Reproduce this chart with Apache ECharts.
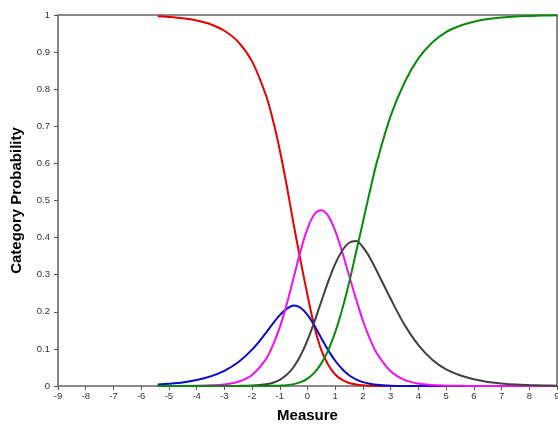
<!DOCTYPE html>
<html>
<head>
<meta charset="utf-8">
<script src="https://cdn.jsdelivr.net/npm/echarts@6/dist/echarts.min.js"></script>
<style>
html,body{margin:0;padding:0;background:#fff;}
#c{width:558px;height:428px;}
</style>
</head>
<body>
<div id="c"></div>
<script>
var measures = [-5.4,-5,-4.5,-4,-3.5,-3,-2.5,-2,-1.5,-1.25,-1,-0.75,-0.5,-0.25,0,0.25,0.5,0.75,1,1.25,1.5,1.75,2,2.25,2.5,3,3.5,4,4.5,5,5.5,6,6.5,7,7.5,8,8.5,9];

var cat0 = [0.9964,0.9946,0.991,0.985,0.975,0.9576,0.9276,0.875,0.7837,0.7178,0.6363,0.5405,0.4357,0.338,0.245,0.16,0.0965,0.0564,0.0311,0.0163,0.0081,0.0038,0.0017,0.0008,0.0003,0.0001,0,0,0,0,0,0,0,0,0,0,0,0];
var cat1 = [0.004,0.006,0.0095,0.016,0.026,0.041,0.064,0.098,0.143,0.168,0.191,0.208,0.217,0.211,0.192,0.163,0.129,0.096,0.068,0.046,0.029,0.018,0.0105,0.006,0.0032,0.0009,0.0002,0.0001,0,0,0,0,0,0,0,0,0,0];
var cat2 = [0.00004,0.0001,0.0002,0.0006,0.0017,0.0044,0.0116,0.0298,0.0726,0.1095,0.158,0.22,0.292,0.364,0.424,0.463,0.474,0.458,0.418,0.362,0.298,0.235,0.176,0.127,0.0884,0.0396,0.0164,0.0065,0.0025,0.001,0.0004,0.0001,0,0,0,0,0,0];
var cat3 = [0,0,0,0,0,0.0001,0.0003,0.0012,0.0046,0.0089,0.0167,0.0301,0.0513,0.0823,0.1236,0.1735,0.2282,0.2821,0.3294,0.3645,0.386,0.391,0.374,0.346,0.31,0.235,0.165,0.11,0.071,0.045,0.029,0.018,0.011,0.007,0.004,0.0025,0.0015,0.001];
var cat4 = [0,0,0,0,0,0,0,0.00003,0.0002,0.0004,0.001,0.0023,0.005,0.0104,0.02,0.0361,0.061,0.0968,0.1451,0.2061,0.2783,0.3599,0.4423,0.5251,0.6028,0.728,0.818,0.883,0.926,0.954,0.971,0.982,0.989,0.993,0.996,0.9975,0.9985,0.999];

var seriesNames = ['0','1','2','3','4'];
var seriesValues = [cat0, cat1, cat2, cat3, cat4];
var seriesColors = ['#e80000','#0a0ac8','#f010f0','#404040','#0a8a0a'];

function pairs(v){ return measures.map(function(x,i){ return [x, v[i]]; }); }

var chart = echarts.init(document.getElementById('c'), null, {renderer:'canvas'});
chart.setOption({
  animation:false,
  backgroundColor:'#ffffff',
  grid:{left:58, right:1, top:15, bottom:42, containLabel:false, outerBoundsMode:'none',
        show:true, borderColor:'#8a8a8a', borderWidth:2, backgroundColor:'transparent'},
  xAxis:{
    type:'value', min:-9, max:9, interval:1,
    name:'Measure', nameLocation:'middle', nameGap:22,
    nameTextStyle:{fontFamily:'Liberation Sans, Arial', fontWeight:'bold', fontSize:15, color:'#000'},
    axisLine:{show:true, onZero:false, lineStyle:{color:'#8a8a8a', width:2}},
    axisTick:{show:true, length:4, lineStyle:{color:'#555'}},
    axisLabel:{fontFamily:'Liberation Sans, Arial', fontSize:9.5, color:'#333', margin:5},
    splitLine:{show:false}
  },
  yAxis:{
    type:'value', min:0, max:1, interval:0.1,
    name:'Category Probability', nameLocation:'middle', nameGap:34,
    nameTextStyle:{fontFamily:'Liberation Sans, Arial', fontWeight:'bold', fontSize:15, color:'#000'},
    axisLine:{show:true, onZero:false, lineStyle:{color:'#8a8a8a', width:2}},
    axisTick:{show:true, length:4, lineStyle:{color:'#555'}},
    axisLabel:{fontFamily:'Liberation Sans, Arial', fontSize:9.5, color:'#333', margin:8},
    splitLine:{show:false}
  },
  series: seriesNames.map(function(n,i){
    return {
      name:n, type:'line', data:pairs(seriesValues[i]), smooth:0.35, showSymbol:false, symbol:'none',
      lineStyle:{color:seriesColors[i], width:2}, itemStyle:{color:seriesColors[i]}, z:2+i
    };
  })
});
</script>
</body>
</html>
